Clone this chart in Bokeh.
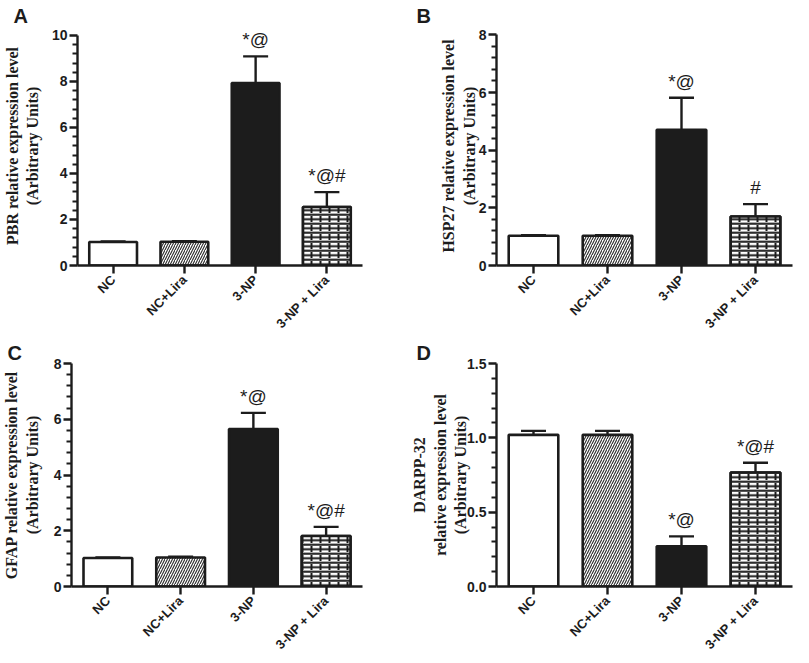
import numpy as np
from bokeh.plotting import figure
from bokeh.layouts import column, row
from bokeh.models import (ColumnDataSource, Whisker, TeeHead, FixedTicker)
from bokeh.core.properties import value
from bokeh.embed import file_html
from bokeh.resources import INLINE

categories = ["NC", "NC+Lira", "3-NP", "3-NP + Lira"]

pbr_mean = [1.02, 1.03, 7.93, 2.54]
pbr_sem = [0.03, 0.03, 1.16, 0.65]
pbr_sig = ["", "", "*@", "*@#"]

hsp27_mean = [1.03, 1.03, 4.71, 1.70]
hsp27_sem = [0.02, 0.02, 1.11, 0.43]
hsp27_sig = ["", "", "*@", "#"]

gfap_mean = [1.02, 1.04, 5.65, 1.81]
gfap_sem = [0.02, 0.03, 0.58, 0.33]
gfap_sig = ["", "", "*@", "*@#"]

darpp_mean = [1.02, 1.02, 0.271, 0.767]
darpp_sem = [0.027, 0.027, 0.066, 0.065]
darpp_sig = ["", "", "*@", "*@#"]

ticks_A = [0, 2, 4, 6, 8, 10]
ticks_B = [0, 2, 4, 6, 8]
ticks_C = [0, 2, 4, 6, 8]
ticks_D = [0, 0.5, 1.0, 1.5]
tick_labels_D = ["0.0", "0.5", "1.0", "1.5"]

SANS = "Liberation Sans"
SERIF = "Liberation Serif"
BLACK = "#1c1c1c"


def panel(letter, letter_offset, means, sems, sigs, ticks, ylabel, yend, w, h,
          mbl, mbr, mbt, mbb, label_standoff, tick_overrides=None):
    p = figure(x_range=categories, y_range=(0, yend), width=w, height=h,
               output_backend="svg", toolbar_location=None, title=letter,
               min_border_left=mbl, min_border_right=mbr,
               min_border_top=mbt, min_border_bottom=mbb)
    p.title.text_font = SANS
    p.title.text_font_style = "bold"
    p.title.text_font_size = "20px"
    p.title.text_color = BLACK
    p.title.align = "left"
    p.title.offset = letter_offset
    p.title.standoff = 0
    p.x_range.range_padding = 0
    p.outline_line_color = None
    p.grid.visible = False
    p.background_fill_color = "white"

    upper = [m + s for m, s in zip(means, sems)]
    src = ColumnDataSource(dict(
        x=categories, top=means, upper=upper, sig=sigs,
        fill=["white", "white", BLACK, "white"],
        hatch=[" ", "/", " ", " "],
    ))
    p.vbar(x="x", top="top", width=0.67, source=src, fill_color="fill",
           hatch_pattern="hatch", hatch_color="#2a2a2a", hatch_scale=5.0,
           hatch_weight=1.1, line_color=BLACK, line_width=2.6)
    # brick pattern for the last bar
    src2 = ColumnDataSource(dict(x=[categories[3]], top=[means[3]]))
    p.vbar(x="x", top="top", width=0.67, source=src2, fill_color="white",
           hatch_pattern="horizontal_line", hatch_color="#1a1a1a", hatch_scale=4.5,
           hatch_weight=2.0, line_color=None)
    p.vbar(x="x", top="top", width=0.67, source=src2, fill_alpha=0,
           hatch_pattern="vertical_dash", hatch_color="#1a1a1a", hatch_scale=9,
           hatch_weight=2.0, line_color=BLACK, line_width=2.6)

    wk = Whisker(base="x", upper="upper", lower="top", source=src,
                 dimension="height", line_color=BLACK, line_width=2.4,
                 upper_head=TeeHead(size=25, line_color=BLACK, line_width=2.4),
                 lower_head=None)
    p.add_layout(wk)

    p.text(x="x", y="upper", text="sig", source=src, text_align="center",
           text_baseline="bottom", y_offset=-6, text_font=value(SANS),
           text_font_size="19px", text_color=BLACK)

    minor = []
    step = (ticks[1] - ticks[0]) / 5
    for t0 in ticks[:-1]:
        for k in range(1, 5):
            minor.append(t0 + k * step)
    p.yaxis.ticker = FixedTicker(ticks=ticks, minor_ticks=minor)
    if tick_overrides:
        p.yaxis.major_label_overrides = {t: l for t, l in zip(ticks, tick_overrides)}
    p.yaxis.bounds = (ticks[0], ticks[-1])
    for ax in (p.xaxis, p.yaxis):
        ax.axis_line_width = 2.4
        ax.axis_line_color = BLACK
        ax.major_tick_line_width = 2.4
        ax.major_tick_line_color = BLACK
        ax.major_tick_in = 0
        ax.major_tick_out = 8
        ax.major_label_text_font = SANS
        ax.major_label_text_font_style = "bold"
        ax.major_label_text_color = BLACK
    p.yaxis.minor_tick_line_width = 2
    p.yaxis.minor_tick_line_color = BLACK
    p.yaxis.minor_tick_in = 0
    p.yaxis.minor_tick_out = 5
    p.yaxis.major_label_text_font_size = "14px"
    p.yaxis.major_label_standoff = 2
    p.xaxis.major_label_text_font_size = "13px"
    p.xaxis.major_label_orientation = np.pi / 4
    p.xaxis.major_label_standoff = 4
    p.yaxis.axis_label = ylabel
    p.yaxis.axis_label_text_font = SERIF
    p.yaxis.axis_label_text_font_style = "bold"
    p.yaxis.axis_label_text_font_size = "16px"
    p.yaxis.axis_label_text_color = BLACK
    p.yaxis.axis_label_standoff = label_standoff
    return p


pA = panel("A", -64, pbr_mean, pbr_sem, pbr_sig, ticks_A,
           "PBR relative expression level\n(Arbitrary Units)", 10.39,
           392, 339, 64, 30, 26, 74, 8)
pB = panel("B", -80, hsp27_mean, hsp27_sem, hsp27_sig, ticks_B,
           "HSP27 relative expression level\n(Arbitrary Units)", 8.29,
           401, 339, 104, 1, 26, 74, -2)
pC = panel("C", -64, gfap_mean, gfap_sem, gfap_sig, ticks_C,
           "GFAP relative expression level\n(Arbitrary Units)", 8.0,
           392, 323, 64, 30, 21, 76, 10)
pD = panel("D", -80, darpp_mean, darpp_sem, darpp_sig, ticks_D,
           "DARPP-32\nrelative expression level\n(Arbitrary Units)", 1.5,
           401, 323, 104, 1, 21, 76, -5, tick_labels_D)

layout = column(row(pA, pB), row(pC, pD))
open("out.html", "w").write(file_html(layout, INLINE))
